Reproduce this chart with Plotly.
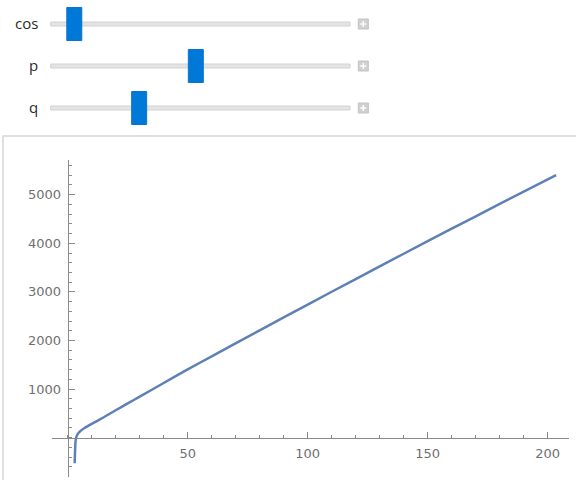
import plotly.graph_objects as go

# ---- data ----
x_vals = [2.9, 2.95, 3.0, 3.1, 3.25, 3.5, 3.8, 4.5, 5.5, 7, 10, 15, 20, 25, 30, 40, 50,
          60, 80, 100, 120, 140, 160, 180, 203.5]
y_vals = [-527, -450, -380, -230, -90, -5, 40, 95, 145, 200, 285, 420, 565, 705, 845,
          1125, 1405, 1675, 2210, 2740, 3265, 3785, 4300, 4810, 5405]

x_ticks = [50, 100, 150, 200]
y_ticks = [1000, 2000, 3000, 4000, 5000]

slider_names = ["cos", "p", "q"]
slider_fracs = [0.055, 0.484, 0.284]   # thumb positions along the track (0..1)

W, H = 576, 480


def px(x):
    return x / W


def py(y):
    return 1 - y / H


# plot geometry (pixels)
X0PX, XSCALE = 67.7, 2.4        # pixel of x=0, pixels per unit
Y0PX, YSCALE = 437.7, 0.0486    # pixel of y=0, pixels per unit
XR = [-6.5, 209]
YR = [-800, 5710]

fig = go.Figure()
fig.add_trace(go.Scatter(
    x=x_vals, y=y_vals, mode="lines",
    line=dict(color="#5E81B5", width=2.5, shape="spline", smoothing=0.5),
    hoverinfo="skip", showlegend=False,
))

axis_col = "#8a8a8a"
font = dict(family="DejaVu Sans", size=13, color="#707070")

fig.update_layout(
    width=W, height=H, autosize=False,
    margin=dict(l=0, r=0, t=0, b=0),
    paper_bgcolor="white", plot_bgcolor="white",
    showlegend=False,
    xaxis=dict(
        domain=[px(X0PX + XR[0] * XSCALE), px(X0PX + XR[1] * XSCALE)],
        range=XR, showgrid=False, zeroline=False,
        showline=True, linecolor=axis_col, linewidth=1,
        anchor="free", position=py(Y0PX),
        ticks="inside", ticklen=6, tickwidth=1, tickcolor=axis_col,
        tickmode="array", tickvals=x_ticks, tickfont=font,
        ticklabelstandoff=4,
        minor=dict(ticks="inside", ticklen=3, tickwidth=1, tickcolor=axis_col,
                   dtick=10, tick0=0, showgrid=False),
    ),
    yaxis=dict(
        domain=[py(Y0PX - YR[0] * YSCALE), py(Y0PX - YR[1] * YSCALE)],
        range=YR, showgrid=False, zeroline=False,
        showline=True, linecolor=axis_col, linewidth=1,
        anchor="free", position=px(X0PX),
        ticks="inside", ticklen=6, tickwidth=1, tickcolor=axis_col,
        tickmode="array", tickvals=y_ticks, tickfont=font,
        ticklabelstandoff=4,
        minor=dict(ticks="inside", ticklen=3, tickwidth=1, tickcolor=axis_col,
                   dtick=200, tick0=0, showgrid=False),
    ),
)

shapes = []
annotations = []

# panel frame
shapes.append(dict(type="rect", xref="paper", yref="paper",
                   x0=px(3), x1=px(590), y0=py(490), y1=py(136),
                   line=dict(color="#d6d6d6", width=1.5), fillcolor="rgba(0,0,0,0)",
                   layer="below"))

track_x0, track_x1 = 50.7, 350
track_ys = [24, 66, 108]
thumb_w, thumb_h = 15, 33
for name, frac, ty in zip(slider_names, slider_fracs, track_ys):
    # track
    shapes.append(dict(type="rect", xref="paper", yref="paper",
                       x0=px(track_x0), x1=px(track_x1), y0=py(ty + 2), y1=py(ty - 2),
                       line=dict(color="#d2d2d2", width=1), fillcolor="#e4e4e4"))
    # thumb
    cx = track_x0 + 8 + frac * (track_x1 - track_x0 - 16)
    shapes.append(dict(type="rect", xref="paper", yref="paper",
                       x0=px(cx - thumb_w / 2), x1=px(cx + thumb_w / 2),
                       y0=py(ty + thumb_h / 2), y1=py(ty - thumb_h / 2),
                       line=dict(color="#0a74d2", width=1), fillcolor="#0078D7"))
    # plus button
    shapes.append(dict(type="rect", xref="paper", yref="paper",
                       x0=px(358.3), x1=px(368.3), y0=py(ty + 5), y1=py(ty - 5),
                       line=dict(color="#c4c4c4", width=1), fillcolor="#d0d0d0"))
    shapes.append(dict(type="line", xref="paper", yref="paper",
                       x0=px(360.3), x1=px(366.3), y0=py(ty), y1=py(ty),
                       line=dict(color="white", width=1.5)))
    shapes.append(dict(type="line", xref="paper", yref="paper",
                       x0=px(363.3), x1=px(363.3), y0=py(ty - 3), y1=py(ty + 3),
                       line=dict(color="white", width=1.5)))
    # label
    annotations.append(dict(xref="paper", yref="paper", x=px(39.5), y=py(ty - 1),
                            xanchor="right", yanchor="middle", showarrow=False,
                            text=name,
                            font=dict(family="Open Sans", size=15, color="#2b2b2b")))

fig.update_layout(shapes=shapes, annotations=annotations)

fig.write_html("out.html",
               config={"displayModeBar": False, "staticPlot": True},
               post_script="document.body.style.margin='0';document.body.style.padding='0';")
